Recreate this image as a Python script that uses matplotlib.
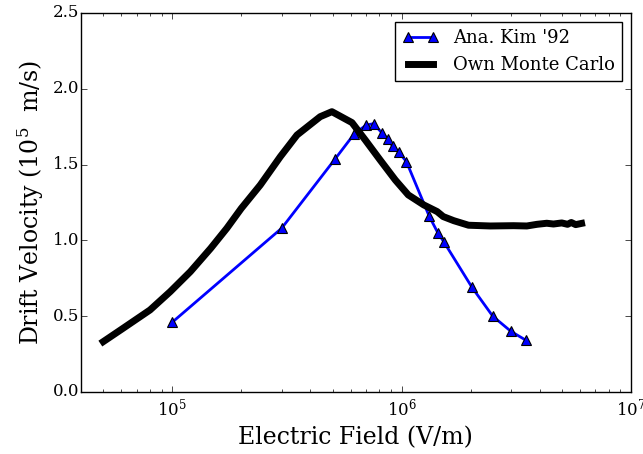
import matplotlib
matplotlib.use("Agg")
import matplotlib.pyplot as plt

# Analytical results (Kim '92)
kim_field = [1.0e5, 3.0e5, 5.15e5, 6.2e5, 7.0e5, 7.55e5, 8.2e5, 8.7e5, 9.15e5,
             9.75e5, 1.05e6, 1.32e6, 1.44e6, 1.53e6, 2.03e6, 2.5e6, 3.0e6, 3.5e6]
kim_velocity = [0.46, 1.08, 1.54, 1.70, 1.76, 1.77, 1.71, 1.67, 1.62,
                1.58, 1.52, 1.16, 1.05, 0.99, 0.69, 0.50, 0.40, 0.34]

# Own Monte Carlo simulation
mc_field = [5.0e4, 6.1e4, 8.0e4, 9.8e4, 1.2e5, 1.47e5, 1.73e5, 2.0e5, 2.42e5,
            2.96e5, 3.5e5, 4.42e5, 4.97e5, 6.08e5, 6.95e5, 8.07e5, 9.4e5,
            1.07e6, 1.25e6, 1.43e6, 1.52e6, 1.69e6, 1.96e6, 2.44e6, 3.08e6,
            3.52e6, 3.9e6, 4.3e6, 4.6e6, 5.0e6, 5.3e6, 5.5e6, 5.75e6, 6.1e6]
mc_velocity = [0.332, 0.42, 0.541, 0.662, 0.794, 0.947, 1.08, 1.211, 1.365,
               1.552, 1.695, 1.816, 1.849, 1.777, 1.662, 1.53, 1.398,
               1.30, 1.234, 1.19, 1.157, 1.13, 1.10, 1.095, 1.097,
               1.095, 1.106, 1.113, 1.108, 1.115, 1.106, 1.118, 1.104, 1.112]

plt.style.use("classic")
plt.rcParams["font.family"] = "serif"
plt.rcParams["font.serif"] = ["DejaVu Serif"]
plt.rcParams["mathtext.fontset"] = "dejavuserif"
plt.rcParams["figure.facecolor"] = "white"
plt.rcParams["savefig.facecolor"] = "white"

fig = plt.figure(figsize=(6.43, 4.54), dpi=100)
ax = fig.add_axes([0.126, 0.1366, 0.855, 0.8348])

ax.plot(kim_field, kim_velocity, color="blue", lw=2, marker="^", ms=7,
        mfc="blue", mec="black", mew=0.8, label="Ana. Kim '92")
ax.plot(mc_field, mc_velocity, color="black", lw=5, label="Own Monte Carlo")

ax.set_xscale("log")
ax.set_xlim(4.0e4, 1.0e7)
ax.set_ylim(0.0, 2.5)
ax.set_yticks([0.0, 0.5, 1.0, 1.5, 2.0, 2.5])
ax.tick_params(labelsize=12)
ax.tick_params(axis="y", pad=1)

ax.set_xlabel("Electric Field (V/m)", fontsize=17)
ax.set_ylabel("Drift Velocity (10$^{5}$  m/s)", fontsize=17)

leg = ax.legend(loc="upper right", fontsize=13, numpoints=2)

fig.savefig("out.png", dpi=100)
